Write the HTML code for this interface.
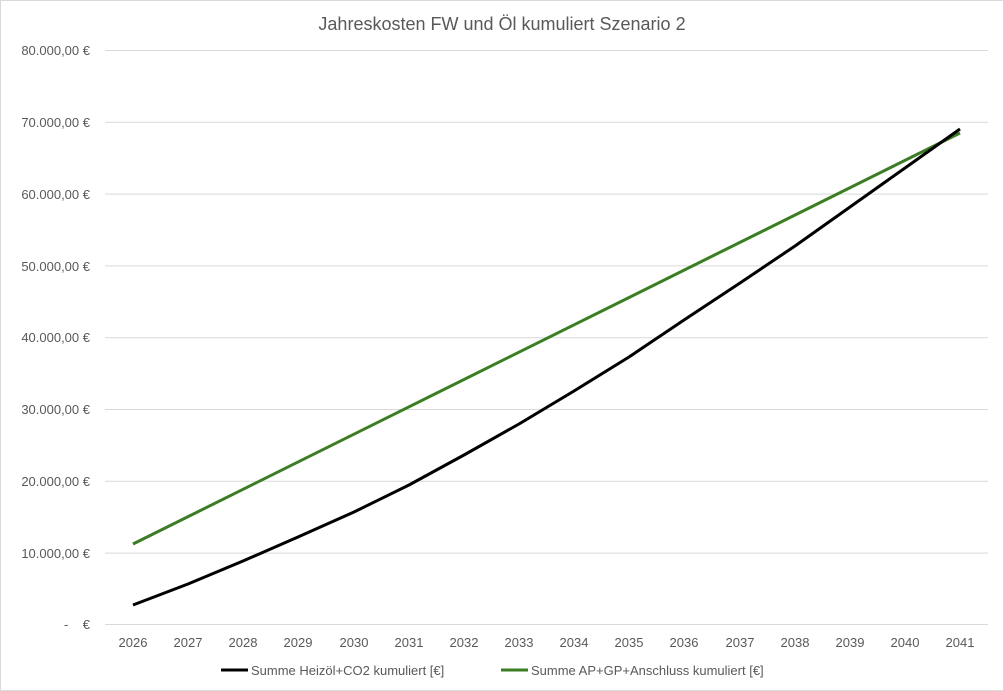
<!DOCTYPE html>
<html><head><meta charset="utf-8"><style>body{margin:0;background:#fff}svg{display:block}text{font-family:"Liberation Sans",sans-serif;fill:#595959}</style></head><body>
<svg width="1004" height="691" viewBox="0 0 1004 691">
<rect x="0.5" y="0.5" width="1003" height="690" fill="#fff" stroke="#d9d9d9"/>
<text x="502" y="30" font-size="18" text-anchor="middle">Jahreskosten FW und Öl kumuliert Szenario 2</text>
<g stroke="#d9d9d9" stroke-width="1">
<line x1="105" x2="988" y1="50.5" y2="50.5"/><line x1="105" x2="988" y1="122.3" y2="122.3"/><line x1="105" x2="988" y1="194.1" y2="194.1"/><line x1="105" x2="988" y1="265.9" y2="265.9"/><line x1="105" x2="988" y1="337.7" y2="337.7"/><line x1="105" x2="988" y1="409.5" y2="409.5"/><line x1="105" x2="988" y1="481.3" y2="481.3"/><line x1="105" x2="988" y1="553.1" y2="553.1"/><line x1="105" x2="988" y1="624.5" y2="624.5"/>
</g>
<g font-size="13" text-anchor="end">
<text x="90" y="55">80.000,00 €</text><text x="90" y="127">70.000,00 €</text><text x="90" y="199">60.000,00 €</text><text x="90" y="271">50.000,00 €</text><text x="90" y="342">40.000,00 €</text><text x="90" y="414">30.000,00 €</text><text x="90" y="486">20.000,00 €</text><text x="90" y="558">10.000,00 €</text><text x="90" y="629">-&#160;&#160;&#160;&#160;€</text>
</g>
<g font-size="13" text-anchor="middle">
<text x="133" y="647">2026</text><text x="188" y="647">2027</text><text x="243" y="647">2028</text><text x="298" y="647">2029</text><text x="354" y="647">2030</text><text x="409" y="647">2031</text><text x="464" y="647">2032</text><text x="519" y="647">2033</text><text x="574" y="647">2034</text><text x="629" y="647">2035</text><text x="684" y="647">2036</text><text x="740" y="647">2037</text><text x="795" y="647">2038</text><text x="850" y="647">2039</text><text x="905" y="647">2040</text><text x="960" y="647">2041</text>
</g>
<polyline fill="none" stroke="#3a7d22" stroke-width="3" stroke-linejoin="round" points="133,544 960,133"/>
<polyline fill="none" stroke="#000" stroke-width="3" stroke-linejoin="round" points="133,605 188,584 243,561 298,537 354,512 409,485 464,455 519,424 574,391 629,357 684,320 740,283 795,246 850,207 905,168 960,129"/>
<line x1="221" x2="248" y1="670" y2="670" stroke="#000" stroke-width="3"/>
<text x="251" y="675" font-size="13">Summe Heizöl+CO2 kumuliert  [€]</text>
<line x1="501" x2="528" y1="670" y2="670" stroke="#3a7d22" stroke-width="3"/>
<text x="531" y="675" font-size="13">Summe AP+GP+Anschluss kumuliert  [€]</text>
</svg>
</body></html>
